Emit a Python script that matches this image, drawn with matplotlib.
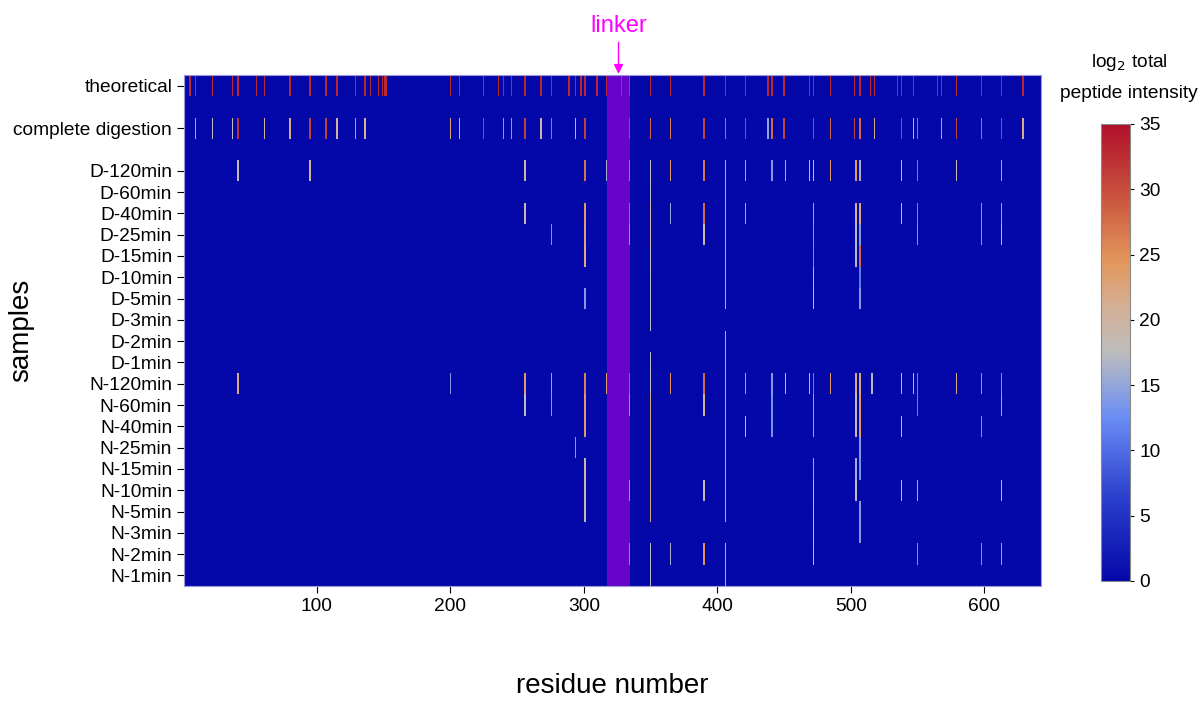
import numpy as np
import matplotlib
matplotlib.use("Agg")
import matplotlib.pyplot as plt
from matplotlib.colors import LinearSegmentedColormap

plt.rcParams['font.family'] = ['Liberation Sans', 'DejaVu Sans']

# protein length and linker region (residue numbers)
n_res = 642
linker_start, linker_end = 318, 334

# row labels, top to bottom ('' = empty spacer row)
row_labels = ['theoretical', '', 'complete digestion', '',
              'D-120min', 'D-60min', 'D-40min', 'D-25min', 'D-15min',
              'D-10min', 'D-5min', 'D-3min', 'D-2min', 'D-1min',
              'N-120min', 'N-60min', 'N-40min', 'N-25min', 'N-15min',
              'N-10min', 'N-5min', 'N-3min', 'N-2min', 'N-1min']

# (residue, log2 intensity) for each row
theoretical = [(r, 33) for r in [5, 9, 22, 37, 41, 55, 61, 80, 95, 107, 115, 129,
                                 136, 140, 146, 149, 151, 152, 200, 207, 225, 236,
                                 240, 246, 256, 268, 276, 289, 294, 298, 301, 310,
                                 317, 328, 334, 350, 365, 390, 406, 421, 438, 441,
                                 450, 469, 472, 485, 503, 507, 515, 518, 535, 538,
                                 547, 565, 568, 579, 598, 613, 629]]
complete = [(9, 24), (22, 18), (37, 18), (41, 32), (61, 21), (80, 22), (95, 31),
            (107, 31), (115, 20), (129, 15), (136, 21), (200, 23), (207, 20),
            (225, 31), (240, 14), (246, 14), (256, 31), (268, 20), (276, 28),
            (294, 17), (301, 31), (334, 31), (350, 28), (365, 26), (390, 31),
            (406, 28), (421, 31), (438, 15), (441, 28), (450, 31), (472, 31),
            (485, 28), (503, 31), (507, 28), (518, 22), (538, 31), (547, 21),
            (550, 28), (568, 24), (579, 31), (598, 28), (613, 31), (629, 22)]

d120 = [(41, 18), (95, 20), (256, 20), (301, 27), (317, 16), (334, 25), (350, 18),
        (365, 24), (390, 27), (406, 16), (421, 24), (441, 14), (451, 16), (469, 18),
        (472, 18), (485, 24), (504, 24), (507, 16), (538, 21), (550, 28), (579, 19),
        (613, 24)]
d60 = [(350, 17), (406, 16)]
d40 = [(256, 19), (301, 24), (334, 27), (350, 20), (365, 15), (390, 28), (406, 16),
       (421, 24), (472, 25), (504, 20), (507, 22), (538, 18), (550, 27), (598, 14),
       (613, 25)]
d25 = [(276, 13), (301, 23), (334, 18), (350, 20), (390, 19), (406, 16), (472, 26),
       (504, 17), (507, 14), (550, 26), (598, 14), (613, 20)]
d15 = [(301, 22), (350, 18), (406, 16), (472, 27), (504, 17), (507, 28)]
d10 = [(350, 17), (406, 16), (472, 17), (507, 11)]
d5 = [(301, 14), (350, 17), (406, 16), (472, 18), (507, 14)]
d3 = [(350, 17)]
d2 = [(406, 16)]
d1 = [(350, 17), (406, 16)]

n120 = [(41, 22), (200, 14), (256, 24), (276, 15), (301, 26), (317, 24), (334, 28),
        (350, 18), (365, 25), (390, 28), (406, 16), (421, 25), (441, 14), (451, 18),
        (469, 18), (472, 28), (485, 24), (504, 22), (507, 22), (516, 17), (538, 21),
        (547, 17), (550, 28), (579, 22), (598, 14), (613, 26)]
n60 = [(256, 18), (276, 14), (301, 24), (334, 20), (350, 22), (390, 21), (406, 16),
       (441, 13), (472, 25), (504, 18), (507, 24), (550, 28), (613, 24)]
n40 = [(301, 24), (350, 22), (406, 16), (421, 18), (441, 13), (472, 25), (504, 18),
       (507, 24), (538, 17), (598, 13)]
n25 = [(294, 14), (350, 22), (406, 16), (507, 14)]
n15 = [(301, 20), (350, 22), (406, 16), (472, 24), (504, 16), (507, 13)]
n10 = [(301, 19), (334, 18), (350, 22), (390, 18), (406, 16), (472, 18), (504, 18),
       (538, 18), (550, 16), (613, 17)]
n5 = [(301, 19), (350, 22), (406, 16), (472, 17), (507, 14)]
n3 = [(472, 18), (507, 14)]
n2 = [(334, 24), (350, 17), (365, 16), (390, 25), (406, 16), (472, 17), (550, 13),
      (598, 13), (613, 25)]
n1 = [(350, 17), (406, 16)]

rows = [theoretical, [], complete, [],
        d120, d60, d40, d25, d15, d10, d5, d3, d2, d1,
        n120, n60, n40, n25, n15, n10, n5, n3, n2, n1]

# build the intensity matrix
grid = np.zeros((len(rows), n_res))
for i, peaks in enumerate(rows):
    for res, val in peaks:
        grid[i, res - 1] = val

cmap = LinearSegmentedColormap.from_list('intensity', [
    (0.0, '#0508a8'), (0.18, '#2a3fcc'), (0.36, '#6b8ef5'), (0.5, '#bdbdbd'),
    (0.6, '#d4b095'), (0.7, '#e3975c'), (0.85, '#c8503c'), (1.0, '#b0102a')])

fig = plt.figure(figsize=(12.01, 7.02), dpi=100)
ax = fig.add_axes([0.1532, 0.1652, 0.7136, 0.728])
cax = fig.add_axes([0.9167, 0.1724, 0.0242, 0.651])

xe = np.arange(n_res + 1) + 0.5
ye = np.arange(len(rows) + 1) - 0.5
mesh = ax.pcolormesh(xe, ye, grid, cmap=cmap, vmin=0, vmax=35,
                     shading='flat', antialiased=False)
ax.set_xlim(0.5, n_res + 0.5)
ax.set_ylim(len(rows) - 0.5, -0.5)

# linker overlay
ax.axvspan(linker_start - 0.5, linker_end + 0.5, color='#ff00ff', alpha=0.4, lw=0)
mid = (linker_start + linker_end) / 2
ax.annotate('linker', xy=(mid, -0.55), xytext=(mid, -2.3),
            ha='center', va='bottom', color='#ff00ff', fontsize=17,
            annotation_clip=False,
            arrowprops=dict(arrowstyle='-|>', color='#ff00ff', lw=1.0,
                            mutation_scale=14, shrinkA=2, shrinkB=0))

ticks = [i for i, lab in enumerate(row_labels) if lab]
ax.set_yticks(ticks)
ax.set_yticklabels([row_labels[i] for i in ticks], fontsize=13.8)
ax.set_xticks([100, 200, 300, 400, 500, 600])
ax.tick_params(axis='x', labelsize=13.8, length=5)
ax.tick_params(axis='y', length=5)
for s in ax.spines.values():
    s.set_color('#9a9ad8')
    s.set_linewidth(0.8)

ax.set_xlabel('residue number', fontsize=20)
ax.xaxis.set_label_coords(0.5, -0.17)
ax.set_ylabel('samples', fontsize=20)
ax.yaxis.set_label_coords(-0.175, 0.5)

cb = fig.colorbar(mesh, cax=cax, ticks=[0, 5, 10, 15, 20, 25, 30, 35])
cb.ax.tick_params(labelsize=13.8, length=3)
cb.outline.set_edgecolor('#888888')
cb.outline.set_linewidth(0.8)
fig.text(0.94, 0.911, 'log$_2$ total', ha='center', va='center', fontsize=13.8)
fig.text(0.94, 0.867, 'peptide intensity', ha='center', va='center', fontsize=13.8)

fig.savefig('out.png', dpi=100)
